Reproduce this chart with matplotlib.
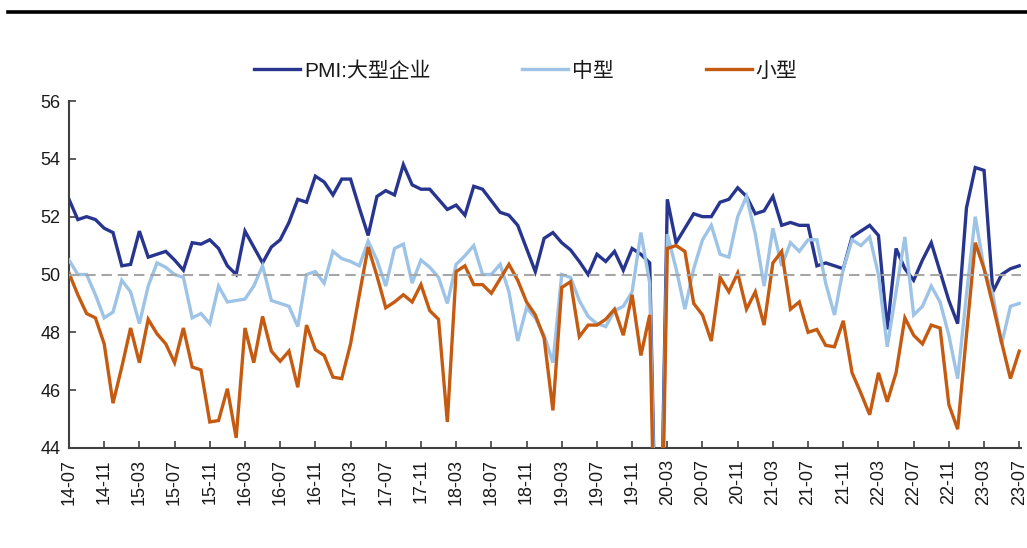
'''
PMI by enterprise size (large / medium / small), monthly 2014-07 to 2023-07
'''
import matplotlib
matplotlib.use('Agg')
import matplotlib.pyplot as plt
from matplotlib.lines import Line2D
import numpy as np

plt.rcParams['font.family'] = ['Liberation Sans', 'Noto Sans CJK SC']

# monthly readings, one row per calendar year (2014 starts in July)
large = [52.6, 51.9, 52.0, 51.9, 51.6, 51.45,
         50.3, 50.35, 51.5, 50.6, 50.7, 50.8, 50.5, 50.15, 51.1, 51.05, 51.2, 50.9,
         50.3, 50.0, 51.5, 50.95, 50.4, 50.95, 51.2, 51.8, 52.6, 52.5, 53.4, 53.2,
         52.75, 53.3, 53.3, 52.3, 51.35, 52.7, 52.9, 52.75, 53.8, 53.1, 52.95, 52.95,
         52.6, 52.25, 52.4, 52.05, 53.05, 52.95, 52.55, 52.15, 52.05, 51.7, 50.9, 50.1,
         51.25, 51.45, 51.1, 50.85, 50.45, 50.0, 50.7, 50.45, 50.8, 50.15, 50.9, 50.7,
         50.4, 36.1, 52.6, 51.1, 51.6, 52.1, 52.0, 52.0, 52.5, 52.6, 53.0, 52.7,
         52.1, 52.2, 52.7, 51.7, 51.8, 51.7, 51.7, 50.3, 50.4, 50.3, 50.2, 51.3,
         51.5, 51.7, 51.35, 48.1, 50.9, 50.2, 49.8, 50.5, 51.1, 50.1, 49.1, 48.3,
         52.3, 53.7, 53.6, 49.4, 50.0, 50.2, 50.3]

medium = [50.5, 50.0, 50.0, 49.3, 48.5, 48.7,
          49.8, 49.4, 48.3, 49.6, 50.4, 50.25, 50.0, 49.9, 48.5, 48.65, 48.3, 49.6,
          49.05, 49.1, 49.15, 49.6, 50.3, 49.1, 49.0, 48.9, 48.2, 50.0, 50.1, 49.7,
          50.8, 50.55, 50.45, 50.3, 51.15, 50.5, 49.6, 50.9, 51.05, 49.7, 50.5, 50.25,
          49.9, 49.0, 50.35, 50.65, 51.0, 50.0, 50.0, 50.35, 49.4, 47.7, 48.85, 48.5,
          47.9, 46.95, 50.0, 49.9, 49.1, 48.55, 48.3, 48.2, 48.75, 48.9, 49.4, 51.45,
          49.7, 35.5, 51.4, 50.2, 48.8, 50.2, 51.2, 51.7, 50.7, 50.6, 52.0, 52.7,
          51.4, 49.6, 51.6, 50.3, 51.1, 50.8, 51.2, 51.2, 49.7, 48.6, 50.2, 51.2,
          51.0, 51.3, 50.0, 47.5, 49.4, 51.3, 48.6, 48.9, 49.6, 49.05, 47.9, 46.4,
          49.3, 52.0, 50.2, 49.3, 47.6, 48.9, 49.0]

small = [50.05, 49.3, 48.65, 48.5, 47.6, 45.55,
         46.8, 48.15, 46.95, 48.45, 47.95, 47.6, 46.95, 48.15, 46.8, 46.7, 44.9, 44.95,
         46.05, 44.35, 48.15, 46.95, 48.55, 47.35, 47.0, 47.35, 46.1, 48.25, 47.4, 47.2,
         46.45, 46.4, 47.6, 49.3, 50.95, 49.95, 48.85, 49.05, 49.3, 49.05, 49.65, 48.75,
         48.45, 44.9, 50.1, 50.3, 49.65, 49.65, 49.35, 49.85, 50.35, 49.8, 49.05, 48.6,
         47.8, 45.3, 49.55, 49.75, 47.85, 48.25, 48.25, 48.45, 48.8, 47.9, 49.3, 47.2,
         48.6, 34.1, 50.9, 51.0, 50.8, 49.0, 48.6, 47.7, 49.9, 49.4, 50.05, 48.8,
         49.4, 48.25, 50.4, 50.8, 48.8, 49.05, 48.0, 48.1, 47.55, 47.5, 48.4, 46.6,
         45.9, 45.15, 46.6, 45.6, 46.6, 48.5, 47.9, 47.6, 48.25, 48.15, 45.5, 44.65,
         47.9, 51.1, 50.2, 48.95, 47.65, 46.4, 47.35]

series_names = ['PMI:大型企业', '中型', '小型']
series_colors = ['#27358F', '#9DC3E6', '#C55A11']

# month labels like "14-07"
month_labels = []
for k in range(len(large)):
    yr = 2014 + (6 + k) // 12
    mo = (6 + k) % 12 + 1
    month_labels.append(f'{yr % 100:02d}-{mo:02d}')

W, H = 1027, 548
fig = plt.figure(figsize=(W / 100, H / 100), dpi=100)
ax = fig.add_axes([69 / W, 1 - 448 / H, (1021 - 69) / W, (448 - 101) / H])

x = np.arange(len(large))
for k, (vals, name, col) in enumerate(zip([large, medium, small],
                                            series_names, series_colors)):
    ax.plot(x, vals, color=col, lw=2.4, label=name, zorder=3 + k,
            solid_joinstyle='miter')

# 50 boom/bust line
ax.axhline(50, color='#A6A6A6', lw=1.5, ls=(0, (5, 2.8)), zorder=7)

ax.set_ylim(44, 56)
ax.set_xlim(0, 108.2)
ax.set_yticks(range(44, 57, 2))
ax.set_xticks(x[::4])
ax.set_xticklabels(month_labels[::4], rotation=90)

for side in ['top', 'right']:
    ax.spines[side].set_visible(False)
for side in ['left', 'bottom']:
    ax.spines[side].set_color('#404040')
    ax.spines[side].set_linewidth(1.5)

ax.tick_params(axis='both', direction='in', length=5, width=1.2,
               color='#404040', labelcolor='#1a1a1a', labelsize=13)
ax.tick_params(axis='y', pad=6)
ax.tick_params(axis='x', pad=8)

leg = fig.legend(loc='center', bbox_to_anchor=(0.512, 1 - 71 / H), ncol=3,
                 frameon=False, fontsize=15, handlelength=2.2,
                 handletextpad=0.2, columnspacing=4.4)
for t in leg.get_texts():
    t.set_color('#1a1a1a')

# rule across the top of the panel
fig.add_artist(Line2D([8 / W, 1.0], [1 - 12 / H, 1 - 12 / H],
                      color='black', lw=2.6, transform=fig.transFigure))

fig.savefig('out.png', dpi=100)
